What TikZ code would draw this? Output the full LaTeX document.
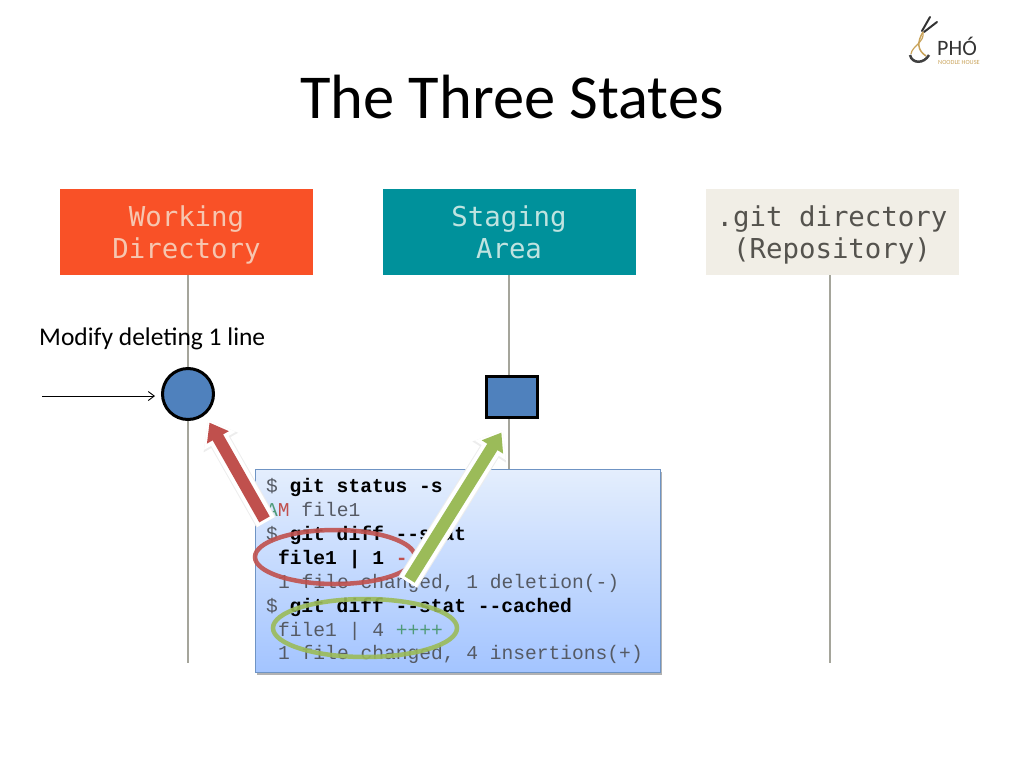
\documentclass[tikz,border=0pt]{standalone}
\usepackage{fontspec}
\setmainfont{Carlito}
\setmonofont{Liberation Mono}
\newfontfamily\hdrfont{DejaVu Sans Mono}
\usetikzlibrary{arrows.meta,shadows,calc,shapes.geometric}
\definecolor{wdred}{HTML}{F95127}
\definecolor{wdtxt}{HTML}{F6C6B0}
\definecolor{teal1}{HTML}{00919B}
\definecolor{tealtxt}{HTML}{BFE3E0}
\definecolor{gitbg}{HTML}{F1EEE6}
\definecolor{gittxt}{HTML}{55534E}
\definecolor{lifeline}{HTML}{A5A59B}
\definecolor{markblue}{HTML}{4F81BD}
\definecolor{redacc}{HTML}{C0504D}
\definecolor{greenacc}{HTML}{9BBB59}
\definecolor{boxtop}{HTML}{E4EEFD}
\definecolor{boxbot}{HTML}{A3C4FF}
\definecolor{boxline}{HTML}{6F94C4}
\definecolor{grytxt}{HTML}{555A64}
\definecolor{addgreen}{HTML}{4F9A78}
\definecolor{logotan}{HTML}{C9A35A}
\newcommand{\hdrtop}{\rule{0pt}{30.4pt}}
\tikzset{
  hdr/.style={minimum width=253pt,minimum height=86pt,inner sep=0pt,align=center,font=\hdrfont\fontsize{27.4}{32}\selectfont},
  life/.style={draw=lifeline,line width=2.5pt},
  cmdtxt/.style={anchor=base west,inner sep=0pt,font=\ttfamily\bfseries\fontsize{19.6}{24}\selectfont,text=black},
  outtxt/.style={anchor=base west,inner sep=0pt,font=\ttfamily\fontsize{19.6}{24}\selectfont,text=grytxt},
  haloshade/.style={draw=black!7,line width=22pt,-{Triangle[width=38pt,length=26pt]}},
  halo/.style={draw=white,line width=20pt,-{Triangle[width=35pt,length=24pt]}},
  redarrow/.style={draw=redacc,line width=12pt,-{Triangle[width=24pt,length=17pt]}},
  greenarrow/.style={draw=greenacc,line width=12pt,-{Triangle[width=24pt,length=17pt]}},
  logoink/.style={draw=black!80,line cap=round}
}
\begin{document}
\begin{tikzpicture}[x=1pt,y=-1pt]
\useasboundingbox (0,0) rectangle (1024,768);
\node[anchor=base,inner sep=0pt,font=\fontsize{62.5}{72}\selectfont,text=black] (title) at (512,118) {The Three States};

% header boxes
\node[hdr,fill=wdred,text=wdtxt] (wd) at (186.5,232) {\hdrtop Working\\\strut Directory};
\node[hdr,fill=teal1,text=tealtxt] (sa) at (509,232) {\hdrtop Staging\\\strut Area};
\node[hdr,fill=gitbg,text=gittxt] (git) at (832,232) {\hdrtop .git directory\\\strut (Repository)};

% life lines
\coordinate (wdend) at (188,663);
\coordinate (saend) at (509,663);
\coordinate (gitend) at (830,663);
\draw[life] (188,275) -- (wdend);
\draw[life] (509,275) -- (saend);
\draw[life] (830,275) -- (gitend);

% markers
\node[circle,draw=black,line width=3pt,fill=markblue,minimum size=51pt,inner sep=0pt] (circ) at (188,394) {};
\node[draw=black,line width=3pt,fill=markblue,minimum width=51pt,minimum height=41pt,inner sep=0pt] (sq) at (512,397) {};

\node[anchor=base west,inner sep=0pt,font=\fontsize{25.5}{30}\selectfont] (modify) at (39,345) {Modify deleting 1 line};
\coordinate (modstart) at (42,396);
\coordinate (modend) at (155,396);
\draw[-{Straight Barb[length=6pt,width=9pt]},line width=0.9pt] (modstart) -- (modend);

% console panel
\node[anchor=north west,minimum width=405pt,minimum height=203pt,inner sep=0pt,draw=boxline,line width=1pt,top color=boxtop,bottom color=boxbot,drop shadow={shadow xshift=1pt,shadow yshift=-2pt,opacity=.3,fill=black}] (panel) at (255,469) {};

\node[outtxt] (l1a) at (266,492) {\$};
\node[cmdtxt] (l1) at (289.5,492) {git status -s};
\node[outtxt] (l2) at (266,516) {\textcolor{addgreen}{A}\textcolor{redacc}{M} file1};
\node[outtxt] (l3a) at (266,540) {\$};
\node[cmdtxt] (l3) at (289.5,540) {git diff --stat};
\node[cmdtxt] (l4) at (278,564) {file1 | 1 \textcolor{redacc}{-}};
\node[outtxt] (l5) at (278,588) {1 file changed, 1 deletion(-)};
\node[outtxt] (l6a) at (266,612) {\$};
\node[cmdtxt] (l6) at (289.5,612) {git diff --stat --cached};
\node[outtxt] (l7) at (278,636) {file1 | 4 \textcolor{addgreen}{++++}};
\node[outtxt] (l8) at (278,659) {1 file changed, 4 insertions(+)};

% rings
\node[ellipse,draw=redacc,line width=4.5pt,minimum width=160pt,minimum height=54pt,inner sep=0pt,opacity=.9] (redring) at (335,557) {};
\node[ellipse,draw=greenacc,line width=4.5pt,minimum width=184pt,minimum height=58pt,inner sep=0pt,opacity=.9] (greenring) at (365,628) {};

% thick arrows
\coordinate (rt) at (266,522);
\coordinate (rh) at (208,420);
\coordinate (gt) at (408,582);
\coordinate (gh) at (503,430);
\draw[haloshade] (rt) -- (rh);
\draw[halo] (rt) -- (rh);
\draw[redarrow] ($(rt)!3pt!(rh)$) -- ($(rh)!3pt!(rt)$);
\draw[haloshade] (gt) -- (gh);
\draw[halo] (gt) -- (gh);
\draw[greenarrow] ($(gt)!3pt!(gh)$) -- ($(gh)!3pt!(gt)$);

% logo
\draw[logoink,line width=2pt] (922,31) -- (930,17);
\draw[logoink,line width=2pt] (924,32) -- (937,22);
\draw[draw=logotan,line width=1.5pt] (923,32) .. controls (917,42) and (917,50) .. (926,56);
\draw[draw=logotan,line width=1.2pt] (923,32) .. controls (925,42) and (912,46) .. (911,54);
\draw[draw=black!75,line width=2.5pt] (910,55) .. controls (912,64) and (924,64) .. (929,55);
\node[anchor=base west,inner sep=0pt,font=\fontsize{22}{24}\selectfont,text=black!80] (pho) at (937,56) {PHÓ};
\node[anchor=base west,inner sep=0pt,font=\fontsize{6.3}{7}\selectfont,text=logotan] (noodle) at (938,64) {NOODLE HOUSE};
\end{tikzpicture}
\end{document}
